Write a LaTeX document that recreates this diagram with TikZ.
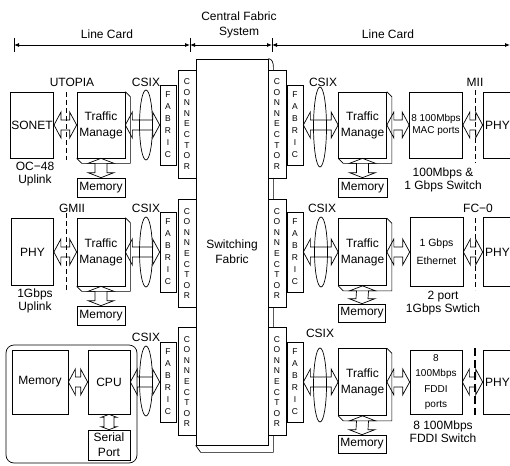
\documentclass[tikz,border=0pt]{standalone}
\usepackage{fontspec}
\setmainfont{Liberation Sans}
\usetikzlibrary{shapes.geometric,calc,arrows.meta}

\begin{document}
\begin{tikzpicture}[
    x=1pt, y=-1pt,
    box/.style={draw, fill=white, line width=0.7pt, align=center, inner sep=1pt, font=\fontsize{12}{15}\selectfont},
    tmbox/.style={box, minimum width=48pt, minimum height=66pt, font=\fontsize{12}{16}\selectfont},
    membox/.style={box, minimum width=48pt, minimum height=19pt},
    portbox/.style={box, minimum width=53pt, minimum height=66pt, font=\fontsize{10}{12}\selectfont},
    phybox/.style={box, minimum width=42pt, minimum height=66pt},
    edgephy/.style={phybox, minimum width=29pt, inner sep=0pt},
    fabbox/.style={box, minimum width=16pt, minimum height=80pt, inner sep=0pt, font=\fontsize{8.5}{12}\selectfont},
    conbox/.style={box, minimum width=18pt, minimum height=108pt, inner sep=0pt, font=\fontsize{8.5}{10.6}\selectfont},
    ring/.style={draw, ellipse, line width=0.7pt, minimum width=13pt, minimum height=70pt, inner sep=0pt},
    lbl/.style={align=center, inner sep=0pt, font=\fontsize{12}{13}\selectfont},
    ifline/.style={line width=0.9pt, dash pattern=on 5pt off 3pt},
    hdr/.style={line width=0.8pt, {Latex[length=5pt,width=4pt]}-{Latex[length=5pt,width=4pt]}},
    hbig/.style={line width=0.7pt, to path={(\tikztostart) -- ++(7pt,13pt) -- ++(0pt,-8pt) -- ($(\tikztotarget)+(-7pt,5pt)$) -- ++(0pt,8pt) -- (\tikztotarget) -- ++(-7pt,-13pt) -- ++(0pt,8pt) -- ($(\tikztostart)+(7pt,-5pt)$) -- ++(0pt,-8pt) -- cycle}},
    vbig/.style={line width=0.7pt, to path={(\tikztostart) -- ++(13pt,-5pt) -- ++(-7pt,0pt) -- ($(\tikztotarget)+(6pt,5pt)$) -- ++(7pt,0pt) -- (\tikztotarget) -- ++(-13pt,5pt) -- ++(7pt,0pt) -- ($(\tikztostart)+(-6pt,-5pt)$) -- ++(-7pt,0pt) -- cycle}},
    vsmall/.style={line width=0.7pt, to path={(\tikztostart) -- ++(8pt,-3pt) -- ++(-3pt,0pt) -- ($(\tikztotarget)+(5pt,3pt)$) -- ++(3pt,0pt) -- (\tikztotarget) -- ++(-8pt,3pt) -- ++(3pt,0pt) -- ($(\tikztostart)+(-5pt,-3pt)$) -- ++(-3pt,0pt) -- cycle}}
]
\useasboundingbox (0,0) rectangle (510,465);
\clip (0,0) rectangle (510,465);

% Header
\node[lbl] (lcLeft) at (107,34) {Line Card};
\node[lbl, font=\fontsize{12}{15}\selectfont] (cfs) at (239,25) {Central Fabric\\System};
\node[lbl] (lcRight) at (388,34) {Line Card};
\coordinate (hA) at (14,45);
\coordinate (hB) at (190,45);
\coordinate (hC) at (272,45);
\coordinate (hD) at (510,45);
\draw[hdr] (hA) -- (hB);
\draw[hdr] (hB) -- (hC);
\draw[hdr] (hC) -- (hD);
\foreach \t in {hA,hB,hC}
  \draw[line width=0.8pt] (\t) ++(0pt,-7pt) -- ++(0pt,14pt);

% Switching fabric
\node[box, minimum width=72pt, minimum height=386pt] (swf) at (232,252) {Switching\\Fabric};
\draw[line width=0.7pt] (swf.north east) to[out=0, in=90] ++(5pt,-8pt) |- ($(swf.south west)+(5pt,-7pt)$) -- (swf.south west);

% Connectors
\node[conbox] (conA) at (187,124)   {C\\O\\N\\N\\E\\C\\T\\O\\R};
\node[conbox] (conB) at (187,253.5) {C\\O\\N\\N\\E\\C\\T\\O\\R};
\node[conbox] (conC) at (187,381.5) {C\\O\\N\\N\\E\\C\\T\\O\\R};
\node[conbox] (conD) at (277,124)   {C\\O\\N\\N\\E\\C\\T\\O\\R};
\node[conbox] (conE) at (277,253.5) {C\\O\\N\\N\\E\\C\\T\\O\\R};
\node[conbox] (conF) at (277,381.5) {C\\O\\N\\N\\E\\C\\T\\O\\R};

% Fabric interfaces
\node[fabbox] (fabA) at (168,125) {F\\A\\B\\R\\I\\C};
\node[fabbox] (fabB) at (168,252) {F\\A\\B\\R\\I\\C};
\node[fabbox] (fabC) at (168,382) {F\\A\\B\\R\\I\\C};
\node[fabbox] (fabD) at (295,125) {F\\A\\B\\R\\I\\C};
\node[fabbox] (fabE) at (295,252) {F\\A\\B\\R\\I\\C};
\node[fabbox] (fabF) at (295,382) {F\\A\\B\\R\\I\\C};

% CSIX rings
\node[ring] (ringA) at (146,125) {};
\node[ring] (ringB) at (146,252) {};
\node[ring] (ringC) at (146,381) {};
\node[ring, minimum height=80pt] (ringD) at (320,127) {};
\node[ring] (ringE) at (321,252) {};
\node[ring, minimum height=74pt] (ringF) at (320,385) {};

% Left line cards
\node[phybox] (sonet) at (32,125) {SONET};
\node[tmbox] (tmA) at (101,125) {Traffic\\Manage};
\node[membox] (memA) at (101,187.5) {Memory};
\node[phybox, minimum height=67pt] (phyL) at (32.5,252) {PHY};
\node[tmbox, minimum height=68pt] (tmB) at (101,252) {Traffic\\Manage};
\node[membox] (memB) at (101,315.5) {Memory};

% Control card
\node[draw, line width=0.7pt, rounded corners=8pt, minimum width=131pt, minimum height=118pt] (board) at (71.5,404) {};
\node[box, minimum width=56pt, minimum height=64pt] (bigMem) at (40,382) {Memory};
\node[box, minimum width=42pt, minimum height=64pt] (cpu) at (109,382) {CPU};
\node[box, minimum width=42pt, minimum height=30pt] (serial) at (109,445) {Serial\\Port};

% Right line cards
\node[tmbox] (tmC) at (362.5,125) {Traffic\\Manage};
\node[membox, minimum width=49pt] (memC) at (362.5,187.5) {Memory};
\node[portbox] (mac) at (436,125) {8 100Mbps\\MAC ports};
\node[edgephy] (phyA) at (497.5,125) {PHY};
\node[tmbox, minimum height=67pt] (tmD) at (362.5,252) {Traffic\\Manage};
\node[membox, minimum width=47pt, minimum height=18pt] (memD) at (362,313) {Memory};
\node[portbox, minimum height=69pt, font=\fontsize{10.5}{18}\selectfont] (eth) at (436.5,252) {1 Gbps\\Ethernet};
\node[edgephy, minimum height=69pt] (phyB) at (497.5,252) {PHY};
\node[tmbox, minimum height=67pt] (tmE) at (362.5,382) {Traffic\\Manage};
\node[membox, minimum height=18pt] (memE) at (362,444) {Memory};
\node[portbox, minimum width=52pt, minimum height=64pt, font=\fontsize{10}{15.5}\selectfont] (fddi) at (436,382) {8\\100Mbps\\FDDI\\ports};
\node[edgephy, minimum height=64pt] (phyC) at (497.5,382) {PHY};

% Traffic manager depth
\foreach \n in {tmA,tmB,tmC,tmD,tmE}
  \draw[line width=0.7pt] (\n.north east) -- ++(5pt,-5pt) |- ($(\n.south west)+(5pt,-5pt)$) -- (\n.south west);

% Interface labels
\node[lbl] (utopia) at (72,82)  {UTOPIA};
\node[lbl] (csixA)  at (146,82) {CSIX};
\node[lbl] (gmii)   at (72,208) {GMII};
\node[lbl] (csixB)  at (146,208) {CSIX};
\node[lbl] (csixC)  at (146,337) {CSIX};
\node[lbl] (csixD)  at (323,82) {CSIX};
\node[lbl] (mii)    at (475,82) {MII};
\node[lbl] (csixE)  at (322,208) {CSIX};
\node[lbl] (fc)     at (478,208) {FC−0};
\node[lbl] (csixF)  at (320,333) {CSIX};

% Card captions
\node[lbl] (ocA) at (35,174.5) {OC−48\\Uplink};
\node[lbl] (gbA) at (35,301)   {1Gbps\\Uplink};
\node[lbl] (swA) at (443,179.5) {100Mbps \&\\1 Gbps Switch};
\node[lbl] (swB) at (443,303.5) {2 port\\1Gbps Swtich};
\node[lbl] (swC) at (443,431.5) {8 100Mbps\\FDDI Switch};

% Interface lines
\draw[ifline] (66,92) -- (66,160);
\draw[ifline] (66,213) -- (66,290);
\draw[ifline] (475,90) -- (475,163);
\draw[ifline] (475,218) -- (475,290);
\draw[ifline, line width=1.4pt, dash pattern=on 8pt off 4pt] (475,348) -- (475,415);

% Data paths
\draw[hbig] (sonet.east) to (tmA.west);
\draw[hbig] (tmA.east) to (fabA.west);
\draw[hbig] (phyL.east) to (tmB.west);
\draw[hbig] (tmB.east) to (fabB.west);
\draw[hbig] (bigMem.east) to (cpu.west);
\draw[hbig] (cpu.east) to (fabC.west);
\draw[hbig] (fabD.east) to (tmC.west);
\draw[hbig] (tmC.east) to (mac.west);
\draw[hbig] (mac.east) to (phyA.west);
\draw[hbig] (fabE.east) to (tmD.west);
\draw[hbig] (tmD.east) to (eth.west);
\draw[hbig] (eth.east) to (phyB.west);
\draw[hbig] (fabF.east) to (tmE.west);
\draw[hbig] (tmE.east) to (fddi.west);
\draw[hbig] (fddi.east) to (phyC.west);

% Memory paths
\draw[vbig] (tmA.south) to (memA.north);
\draw[vbig] (tmB.south) to (memB.north);
\draw[vbig] (tmC.south) to (memC.north);
\draw[vbig] (tmD.south) to (memD.north);
\draw[vbig] (tmE.south) to (memE.north);
\draw[vsmall] (cpu.south) to (serial.north);

\end{tikzpicture}
\end{document}
